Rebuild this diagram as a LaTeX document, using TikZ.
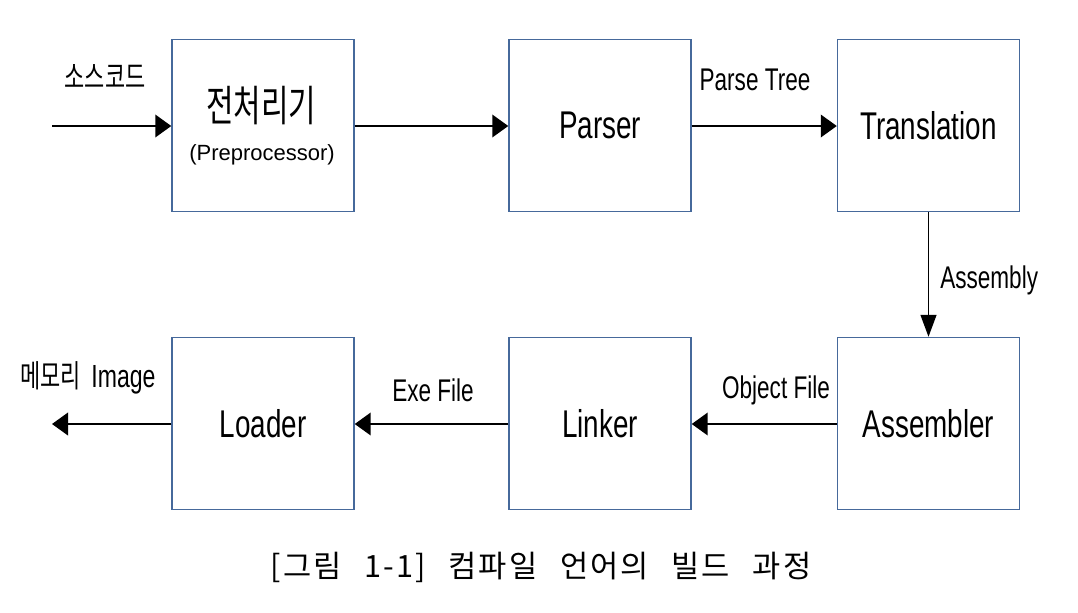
\documentclass[tikz,border=0pt]{standalone}
\usepackage{fontspec}
\setmainfont{Liberation Sans}
\newfontfamily\narrowfont[FakeStretch=0.72]{Liberation Sans}
\newfontfamily\krfont[FakeStretch=0.7]{Noto Sans CJK KR}
\newfontfamily\krcap[LetterSpace=7]{Noto Sans CJK KR}
\usetikzlibrary{arrows.meta}
\definecolor{boxblue}{RGB}{70,105,155}
\begin{document}
\begin{tikzpicture}[x=0.75pt,y=-0.75pt,
  box/.style={draw=boxblue, line width=1.1pt, minimum width=136.5pt, minimum height=129pt, inner sep=0pt, align=center, font=\narrowfont\fontsize{29}{34}\selectfont},
  hconn/.style={line width=1.2pt, -{Triangle[length=12pt,width=17pt]}},
  vconn/.style={line width=1pt, -{Triangle[length=16.5pt,width=12pt]}},
  lbl/.style={font=\narrowfont\fontsize{23.5}{28}\selectfont, inner sep=0pt},
  krlbl/.style={font=\krfont\fontsize{23.5}{28}\selectfont, inner sep=0pt},
]
\useasboundingbox (0,0) rectangle (1078,612);
% boxes
\node[box] (pre) at (263,125.5) {};
\node[inner sep=0pt, font=\krfont\fontsize{32}{36}\selectfont] (pretitle) at (261,106) {전처리기};
\node[inner sep=0pt, font=\fontsize{16.5}{20}\selectfont] (presub) at (262,155) {(Preprocessor)};
\node[box] (parser) at (600,125.5) {Parser};
\node[box] (trans) at (928.5,125.5) {Translation};
\node[box] (asm) at (928.5,423.5) {Assembler};
\node[box] (link) at (600,423.5) {Linker};
\node[box] (load) at (263,423.5) {Loader};
% free ends
\coordinate (src) at (52,126);
\coordinate (out) at (52,424);
% connectors
\draw[hconn] (src) -- (src -| pre.west);
\draw[hconn] (pre.east |- src) -- (src -| parser.west);
\draw[hconn] (parser.east |- src) -- (src -| trans.west);
\draw[vconn] (trans.south) -- (asm.north);
\draw[hconn] (asm.west |- out) -- (out -| link.east);
\draw[hconn] (link.west |- out) -- (out -| load.east);
\draw[hconn] (load.west |- out) -- (out);
% labels
\node[krlbl] (lsrc) at (105,76) {소스코드};
\node[lbl] (lpt) at (755,80) {Parse Tree};
\node[lbl, anchor=west] (las) at (940,280) {Assembly};
\node[lbl] (lobj) at (776,390) {Object File};
\node[lbl] (lexe) at (433,390) {Exe File};
\node[inner sep=0pt, anchor=west] (lmem) at (20,378) {{\krfont\fontsize{23.5}{28}\selectfont 메모리}\hspace{8pt}{\narrowfont\fontsize{24}{28}\selectfont Image}};
% caption
\node[inner sep=0pt, font=\krcap\fontsize{23}{27}\selectfont] (cap) at (541,567) {[그림\hspace{17pt}1-1]\hspace{17pt}컴파일\hspace{17pt}언어의\hspace{17pt}빌드\hspace{17pt}과정};
\end{tikzpicture}
\end{document}
